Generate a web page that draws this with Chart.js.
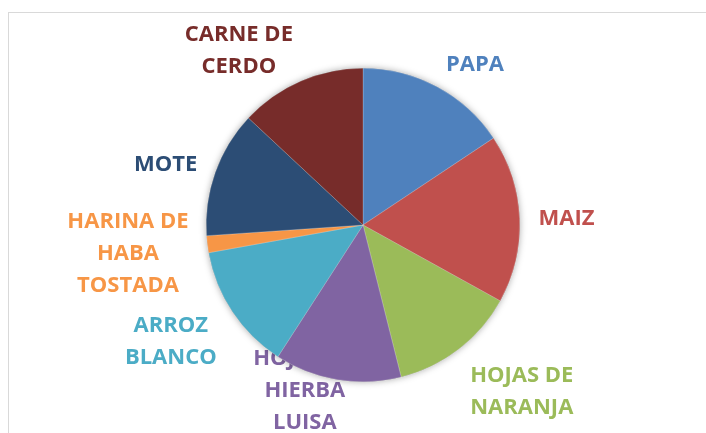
<!DOCTYPE html>
<html>
<head>
    <title>Pie chart</title>
    <script src="https://cdn.jsdelivr.net/npm/chart.js"></script>
    <style>
        body {
            margin: 0;
            background-color: #ffffff;
        }
        .chart-box {
            width: 706px;
            height: 433px;
            position: relative;
        }
    </style>
</head>
<body>

    <div class="chart-box">
        <canvas id="pieChart"></canvas>
    </div>

    <script>
        // Categories, already wrapped into lines the way the labels show them
        var categories = [
            ['PAPA'],
            ['MAIZ'],
            ['HOJAS DE', 'NARANJA'],
            ['HOJAS DE', 'HIERBA', 'LUISA'],
            ['ARROZ', 'BLANCO'],
            ['HARINA DE', 'HABA', 'TOSTADA'],
            ['MOTE'],
            ['CARNE DE', 'CERDO']
        ];
        var values = [18, 20, 15, 15, 15, 2, 15, 15];
        var sliceColors = ['#4F81BD', '#C0504D', '#9BBB59', '#8064A2', '#4BACC6', '#F79646', '#2C4D75', '#772C2A'];

        var LABEL_GAP = 19;  // distance of the label from the pie edge
        var LINE_H = 32;     // label line height

        // Grey frame of the chart area
        var framePlugin = {
            id: 'framePlugin',
            beforeDraw: function(chart) {
                var ctx = chart.ctx;
                ctx.save();
                ctx.strokeStyle = '#d9d9d9';
                ctx.lineWidth = 1;
                ctx.strokeRect(8.5, 12.5, chart.width + 20, chart.height + 20);
                ctx.restore();
            }
        };

        // Labels outside each slice (drawn under the pie) and a soft shadow
        var sliceLabelPlugin = {
            id: 'sliceLabelPlugin',
            beforeDatasetsDraw: function(chart) {
                var ctx = chart.ctx;
                var meta = chart.getDatasetMeta(0);
                ctx.save();
                ctx.font = 'bold 22px "Open Sans"';
                ctx.textAlign = 'center';
                ctx.textBaseline = 'alphabetic';
                meta.data.forEach(function(arc, i) {
                    var lines = chart.data.labels[i];
                    var mid = (arc.startAngle + arc.endAngle) / 2;
                    var dx = Math.cos(mid), dy = Math.sin(mid);
                    var d = arc.outerRadius + LABEL_GAP;
                    var ax = arc.x + dx * d, ay = arc.y + dy * d;
                    var w = Math.max.apply(null, lines.map(function(l) { return ctx.measureText(l).width; }));
                    var h = lines.length * LINE_H;
                    var fx = Math.min(1, Math.max(0, (1 - 3.5 * dx) / 2));
                    var fy = (1 - dy * (dy < 0 ? 0.5 : 1)) / 2;
                    var left = ax - w * fx;
                    var top = ay - h * fy;
                    top = Math.min(top, chart.height + 4 - h);
                    ctx.fillStyle = sliceColors[i];
                    lines.forEach(function(l, j) {
                        ctx.fillText(l, left + w / 2, top + LINE_H * j + LINE_H / 2 + 8);
                    });
                });

                // shadow behind the pie
                var first = meta.data[0];
                ctx.beginPath();
                ctx.arc(first.x, first.y, first.outerRadius, 0, Math.PI * 2);
                ctx.shadowColor = 'rgba(0, 0, 0, 0.35)';
                ctx.shadowBlur = 7;
                ctx.fillStyle = '#888888';
                ctx.fill();
                ctx.restore();
            }
        };

        var ctx = document.getElementById('pieChart').getContext('2d');
        var pieChart = new Chart(ctx, {
            type: 'pie',
            plugins: [framePlugin, sliceLabelPlugin],
            data: {
                labels: categories,
                datasets: [{
                    data: values,
                    backgroundColor: sliceColors,
                    borderColor: 'rgba(255, 255, 255, 0.4)',
                    borderWidth: 0.5
                }]
            },
            options: {
                responsive: true,
                maintainAspectRatio: false,
                animation: false,
                layout: {
                    padding: { top: 68, bottom: 51, left: 20, right: 0 }
                },
                plugins: {
                    legend: { display: false },
                    tooltip: { enabled: false }
                }
            }
        });
    </script>
</body>
</html>
